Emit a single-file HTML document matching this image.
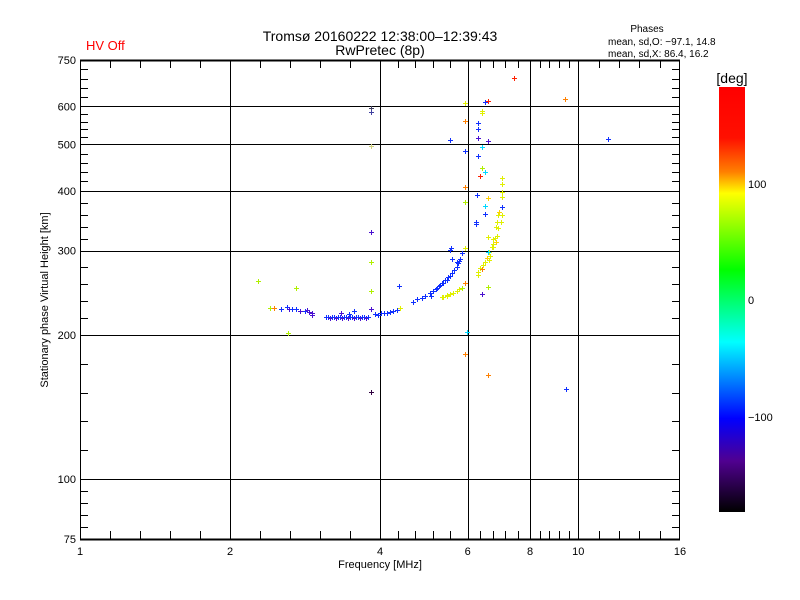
<!DOCTYPE html>
<html><head><meta charset="utf-8"><style>
body{margin:0;background:#fff;}
svg{display:block;font-family:"Liberation Sans",sans-serif;}
</style></head><body>
<svg id="s" width="800" height="600" xmlns="http://www.w3.org/2000/svg">
<rect width="800" height="600" fill="#fff"/>
<defs><linearGradient id="cb" x1="0" y1="0" x2="0" y2="1">
<stop offset="0" stop-color="#ff0000"/><stop offset="0.12" stop-color="#ff1000"/>
<stop offset="0.2" stop-color="#ff8000"/><stop offset="0.25" stop-color="#ffff00"/>
<stop offset="0.43" stop-color="#00ff00"/><stop offset="0.6" stop-color="#00ffff"/>
<stop offset="0.78" stop-color="#0000ff"/><stop offset="0.88" stop-color="#500090"/>
<stop offset="1" stop-color="#000000"/></linearGradient></defs>
<text x="380" y="41" font-size="14" text-anchor="middle">Tromsø 20160222 12:38:00–12:39:43</text>
<text x="380" y="55" font-size="14" text-anchor="middle">RwPretec (8p)</text>
<text x="86" y="50" font-size="13" fill="#ff0000">HV Off</text>
<text x="647" y="32" font-size="10" text-anchor="middle">Phases</text>
<text x="608" y="45" font-size="10">mean, sd,O: −97.1, 14.8</text>
<text x="608" y="57" font-size="10">mean, sd,X:  86.4, 16.2</text>
<g id="g"></g>
<rect x="719" y="87" width="26" height="425" fill="url(#cb)"/>
<text x="732" y="83" font-size="14" text-anchor="middle">[deg]</text>
<text x="748" y="188" font-size="11">100</text>
<text x="748" y="304" font-size="11">0</text>
<text x="748" y="421" font-size="11">−100</text>
<text x="380" y="568" font-size="11" text-anchor="middle">Frequency [MHz]</text>
<text transform="translate(48,300) rotate(-90)" font-size="11" text-anchor="middle">Stationary phase Virtual Height [km]</text>
</svg>
<script>
var g=document.getElementById('g'),h='';
function X(f){return 80+600*Math.log(f)/Math.log(16);}
function Y(v){return 539-479*Math.log10(v/75);}
function L(a,b,c,d,w){h+='<line x1="'+a+'" y1="'+b+'" x2="'+c+'" y2="'+d+'" stroke="#000" stroke-width="'+(w||1)+'"/>';}
[2,4,6,8,10].forEach(function(f){var x=Math.round(X(f))+0.5;L(x,60,x,539);});
[100,200,300,400,500,600].forEach(function(v){var y=Math.round(Y(v))+0.5;L(80,y,680,y);});
var xs=[1,2,4,6,8,10,16];
for(var i=0;i<6;i++){var a=X(xs[i]),b=X(xs[i+1]);for(var k=1;k<5;k++){var x=Math.round(a+(b-a)*k/5)+0.5;L(x,60,x,68);L(x,539,x,531);}}
var ys=[75,100,200,300,400,500,600,750];
for(var i=0;i<7;i++){var a=Y(ys[i]),b=Y(ys[i+1]);for(var k=1;k<5;k++){var y=Math.round(a+(b-a)*k/5)+0.5;L(80,y,88,y);L(680,y,672,y);}}
L(80.5,60,80.5,540);L(679.5,60,679.5,540);L(80,60.5,680,60.5,2);L(80,539.5,680,539.5,2);
xs.forEach(function(f){h+='<text x="'+X(f)+'" y="555" font-size="11" text-anchor="middle">'+f+'</text>';});
ys.forEach(function(v){h+='<text x="76" y="'+(Y(v)+4)+'" font-size="11" text-anchor="end">'+v+'</text>';});
var B='#1030ff',P='#4a10d0',Yl='#e0f000',Yo='#ffd000',O='#ff8000',R='#ff2000',C='#00d8ff',G='#b0f000',K='#300040';
function p(x,y,c){h+='<path d="M'+(x-2)+' '+(y+0.5)+'h5M'+(x+0.5)+' '+(y-2)+'v5" stroke="'+c+'" stroke-width="1"/>';}
var pts=[[514,78,R],[465,103,Yl],[485,102,B],[488,101,R],[482,111,Yl],[482,113,Yl],[465,121,O],[478,123,B],[478,129,B],[478,138,P],[488,141,P],[450,140,B],[482,147,C],[465,151,B],[478,156,B],[482,168,G],[485,172,C],[480,176,R],[502,178,Yl],[502,184,Yl],[465,187,O],[477,195,B],[488,198,Yo],[502,192,Yl],[502,197,Yl],[465,202,G],[485,206,C],[502,207,B],[499,212,Yo],[485,214,B],[502,215,Yl],[498,215,Yl],[476,222,B],[476,224,B],[497,222,Yl],[501,222,Yl],[496,227,Yl],[498,228,Yl],[497,236,Yl],[488,237,Yl],[495,238,Yl],[493,239,Yl],[496,242,Yo],[493,244,Yl],[492,247,Yl],[493,247,Yl],[489,252,Yl],[490,256,Yl],[487,258,Yo],[489,260,Yl],[485,262,Yl],[483,265,Yl],[480,268,Yl],[482,269,O],[478,272,Yl],[478,275,Yl],[488,252,C],[465,248,Yl],[451,248,B],[450,250,B],[462,253,B],[452,259,B],[457,262,B],[459,261,B],[465,283,O],[488,287,G],[462,288,G],[482,294,P],[467,332,C],[465,354,O],[488,375,O],[371,232,P],[371,262,G],[258,281,G],[296,288,G],[371,291,G],[399,286,B],[288,333,G],[270,308,G],[274,308,O],[281,309,B],[287,307,B],[289,309,P],[292,309,B],[296,309,B],[300,311,P],[305,311,B],[307,310,P],[309,312,P],[312,313,P],[312,315,P],[341,313,P],[349,314,B],[354,311,B],[371,309,P],[371,392,K],[371,108,'#404060'],[371,112,'#4040a0'],[371,146,'#d0d080'],[608,139,B],[566,389,B],[565,99,O]];
pts.forEach(function(q){p(q[0],q[1],q[2]);});
for(var x=326;x<=368;x+=2){p(x,317+((x*7)%3===0?1:0),(x%6==0)?P:B);}
[[375,314],[378,315],[381,313],[384,313],[387,313],[390,312],[393,311],[397,310]].forEach(function(q){p(q[0],q[1],B);});
p(400,308,Yl);
[[413,302],[417,299],[422,298],[425,296],[430,293],[433,291],[437,288],[440,285],[443,283],[447,280],[450,276],[452,273],[454,270],[457,267],[458,263],[460,259],[431,296],[433,291],[436,289],[439,286],[442,283],[445,280],[448,277]].forEach(function(q){p(q[0],q[1],B);});
[[443,297],[447,296],[450,294],[453,293],[457,291],[459,289],[442,297],[447,295]].forEach(function(q){p(q[0],q[1],Yl);});
g.innerHTML=h;
</script>
</body></html>
